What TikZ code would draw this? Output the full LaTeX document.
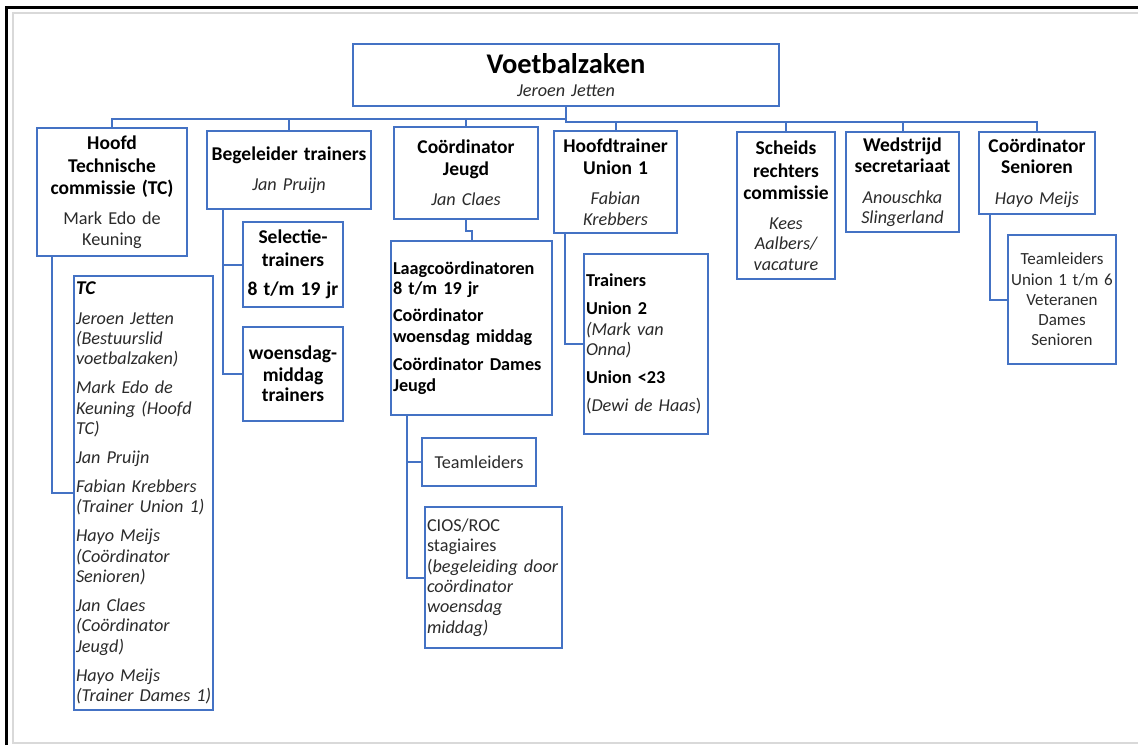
\documentclass[tikz,border=0pt]{standalone}
\usepackage{fontspec}
\setmainfont{Carlito}
\usepackage{tikz}
\definecolor{orgblauw}{HTML}{4472C4}
\definecolor{tekst}{HTML}{2B2B2B}
\definecolor{kader}{HTML}{D9D9D9}
\newcommand{\kop}{\fontsize{19.5}{21.8}\selectfont\bfseries\color{black}}
\newcommand{\romp}{\fontsize{18.2}{20.4}\selectfont}
\tikzstyle{blok}=[draw=orgblauw,line width=2pt,fill=white,inner xsep=2pt,
                  inner ysep=0pt,align=center,text=tekst,font=\romp]
\tikzstyle{lijst}=[blok,align=left]
\tikzstyle{lijn}=[draw=orgblauw,line width=2pt]

\begin{document}
\begin{tikzpicture}[x=1pt,y=-1pt]
  \useasboundingbox (0,0) rectangle (1138,745);
  \draw[kader,line width=2pt] (1138,13) -- (13,13) -- (13,743) -- (1138,743);
  \draw[black,line width=2.5pt] (6.5,745) -- (6.5,7.5) -- (1138,7.5);

	\node[blok,text width=422pt,minimum height=62pt] (vz) at (566,75)
	  {{\fontsize{28.5}{32}\selectfont\bfseries\color{black} Voetbalzaken}\\[3pt]\itshape Jeroen~Jetten};
	\node[blok,text width=146pt,minimum height=128pt] (hoofdtc) at (112,192)
	  {{\kop Hoofd\\[1.3pt]Technische\\[1.3pt]commissie~(TC)}\\[10pt]Mark~Edo~de\\Keuning};
	\node[blok,text width=160pt,minimum height=78pt] (begel) at (289,170)
	  {{\kop Begeleider~trainers}\\[10pt]\itshape Jan~Pruijn};
	\node[blok,text width=140pt,minimum height=92pt] (cjeugd) at (466,173)
	  {{\kop Coördinator\\[1.3pt]Jeugd}\\[10pt]\itshape Jan~Claes};
	\node[blok,text width=119pt,minimum height=102pt] (hoofdtr) at (615.5,182)
	  {{\kop Hoofdtrainer\\[1.3pt]Union~1}\\[10pt]\itshape Fabian\\Krebbers};
	\node[blok,text width=94pt,minimum height=147pt] (scheids) at (786,205.5)
	  {{\kop Scheids\\[1.3pt]rechters\\[1.3pt]commissie}\\[10pt]\itshape Kees\\Aalbers/\\vacature};
	\node[blok,text width=109pt,minimum height=100pt] (wedstr) at (902.5,182)
	  {{\kop Wedstrijd\\[1.3pt]secretariaat}\\[10pt]\itshape Anouschka\\Slingerland};
	\node[blok,text width=112pt,minimum height=82pt] (csen) at (1037,173)
	  {{\kop Coördinator\\[1.3pt]Senioren}\\[10pt]\itshape Hayo~Meijs};

	\node[blok,text width=106pt,inner xsep=1pt,minimum height=129pt,
	      font=\fontsize{17}{20.2}\selectfont] (teamsen) at (1062,299.5)
	  {Teamleiders\\Union~1~t/m~6\\Veteranen\\Dames\\Senioren};
	\node[lijst,text width=135pt,minimum height=434pt] (tclist) at (143.5,493)
	  {{\kop\itshape TC}\\[9pt]
	   \itshape Jeroen~Jetten\\(Bestuurslid\\voetbalzaken)\\[8.5pt]
	   Mark~Edo~de\\Keuning~(Hoofd\\TC)\\[8.5pt]
	   Jan~Pruijn\\[8.5pt]
	   Fabian~Krebbers\\(Trainer~Union~1)\\[8.5pt]
	   Hayo~Meijs\\(Coördinator\\Senioren)\\[8.5pt]
	   Jan~Claes\\(Coördinator\\Jeugd)\\[8.5pt]
	   Hayo~Meijs\\(Trainer~Dames~1)};
	\node[blok,text width=96pt,minimum height=85pt] (selectie) at (293,264.5)
	  {\kop Selectie-\\[1pt]trainers\\[9pt]8~t/m~19~jr};
	\node[blok,text width=96pt,minimum height=94pt] (woensdag) at (293,374)
	  {\kop woensdag-\\middag\\trainers};
	\node[lijst,text width=157pt,minimum height=174pt] (laag) at (471.5,328)
	  {\bfseries\color{black} Laagcoördinatoren\\8~t/m~19~jr\\[6.5pt]
	   Coördinator\\woensdag~middag\\[8pt]Coördinator~Dames\\Jeugd};
	\node[lijst,text width=120pt,minimum height=180pt] (trainers) at (646,344)
	  {\textbf{\color{black}Trainers}\\[7.5pt]\textbf{\color{black}Union~2}\\
	   \textit{(Mark~van}\\\textit{Onna)}\\[7.5pt]
	   \textbf{\color{black}Union~<23}\\[7.5pt](\textit{Dewi~de~Haas})};
	\node[blok,text width=110pt,minimum height=48pt] (teamjeugd) at (479,462)
	  {Teamleiders};
	\node[lijst,text width=133pt,minimum height=141pt] (cios) at (493.5,577.5)
	  {CIOS/ROC\\stagiaires\\(\textit{begeleiding~door}\\\textit{coördinator}\\
	   \textit{woensdag}\\\textit{middag)}};

  \draw[lijn] (vz.south) -- ++(0,12) -| (hoofdtc.north);
  \draw[lijn] (vz.south) -- ++(0,12) -| (begel.north);
  \draw[lijn] (vz.south) -- ++(0,12) -| (cjeugd.north);
  \draw[lijn] (vz.south) -- ++(0,15) -| (hoofdtr.north);
  \draw[lijn] (vz.south) -- ++(0,15) -| (scheids.north);
  \draw[lijn] (vz.south) -- ++(0,15) -| (wedstr.north);
  \draw[lijn] (vz.south) -- ++(0,15) -| (csen.north);

  \draw[lijn] ([xshift=16pt]hoofdtc.south west) |- (tclist.west);
  \draw[lijn] ([xshift=17pt]begel.south west) |- (selectie.west);
  \draw[lijn] ([xshift=17pt]begel.south west) |- (woensdag.west);
  \draw[lijn] (cjeugd.south) -- ++(0,11) -| (laag.north);
  \draw[lijn] ([xshift=17pt]laag.south west) |- (teamjeugd.west);
  \draw[lijn] ([xshift=17pt]laag.south west) |- (cios.west);
  \draw[lijn] ([xshift=12pt]hoofdtr.south west) |- (trainers.west);
  \draw[lijn] ([xshift=12pt]csen.south west) |- (teamsen.west);
\end{tikzpicture}
\end{document}
